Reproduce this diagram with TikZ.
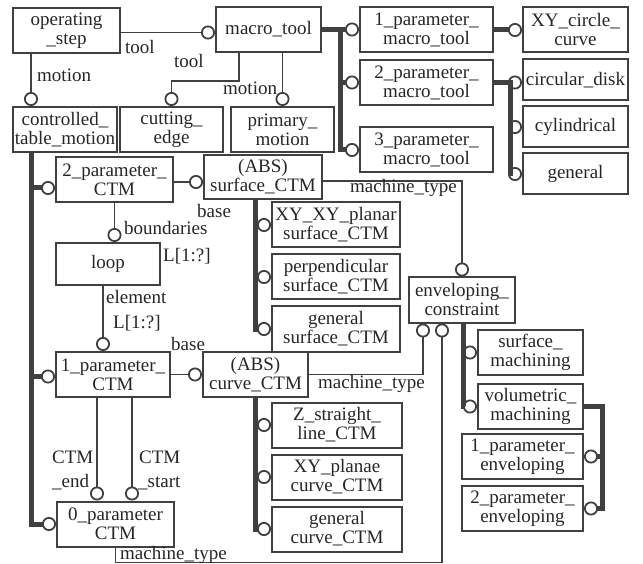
\documentclass[tikz,border=0pt]{standalone}
\usepackage{fontspec}
\setmainfont{Liberation Serif}
\usepackage{tikz}
\usetikzlibrary{positioning,arrows.meta}
\definecolor{ink}{gray}{0.25}
\newcommand{\dfont}{\fontsize{19}{19}\selectfont}

\begin{document}
\begin{tikzpicture}[
    x=1pt, y=-1pt,
    box/.style={draw=ink, line width=2pt, minimum height=45pt, inner sep=0pt,
                align=center, font=\dfont, text=black!85},
    rel/.style={draw=ink, line width=1.8pt,
                -{Circle[open, length=14pt, width=14pt, line width=1.8pt]}},
    sub/.style={draw=ink, line width=5pt,
                -{Circle[open, length=14pt, width=14pt, line width=1.8pt]}},
    lbl/.style={anchor=base west, inner sep=0pt, font=\dfont, text=black!85}
]
    \useasboundingbox (0,0) rectangle (643,564);

    \node[box, minimum width=107pt] (op) at (66.5,30.5) {operating\\\_step};
    \node[box, minimum width=105pt] (macro) at (268.5,29.5) {macro\_tool};
    \node[box, minimum width=104pt] (ctm) at (65,129.5) {controlled\_\\table\_motion};
    \node[box, minimum width=103pt] (edge) at (171.5,129.5) {cutting\_\\edge};
    \node[box, minimum width=103pt] (prim) at (282.5,129.5) {primary\_\\motion};

    \node[box, minimum width=133pt] (pm1) at (426.5,30) {1\_parameter\_\\macro\_tool};
    \node[box, minimum width=133pt] (pm2) at (426.5,82.5) {2\_parameter\_\\macro\_tool};
    \node[box, minimum width=133pt] (pm3) at (426.5,150) {3\_parameter\_\\macro\_tool};
    \node[box, minimum width=105pt] (xycc) at (575.5,30) {XY\_circle\_\\curve};
    \node[box, minimum width=105pt, minimum height=41pt] (disk) at (575.5,80) {circular\_disk};
    \node[box, minimum width=105pt, minimum height=41pt, below=4pt of disk] (cyl) {cylindrical};
    \node[box, minimum width=105pt, minimum height=41pt, below=4pt of cyl] (gen) {general};

    \node[box, minimum width=117pt] (p2ctm) at (114.5,180) {2\_parameter\_\\CTM};
    \node[box, minimum width=118pt, minimum height=44pt] (surf) at (263,177) {(ABS)\\surface\_CTM};
    \node[box, minimum width=128pt] (xyxy) at (336,225) {XY\_XY\_planar\\surface\_CTM};
    \node[box, minimum width=128pt, below=5pt of xyxy] (perp) {perpendicular\\surface\_CTM};
    \node[box, minimum width=128pt, below=5pt of perp] (gsurf) {general\\surface\_CTM};

    \node[box, minimum width=104pt, minimum height=42pt] (loop) at (108,264) {loop};
    \node[box, minimum width=114pt] (p1ctm) at (113,374.5) {1\_parameter\_\\CTM};
    \node[box, minimum width=105pt] (curve) at (255.5,374.5) {(ABS)\\curve\_CTM};
    \node[box, minimum width=130pt] (zline) at (337,425) {Z\_straight\_\\line\_CTM};
    \node[box, minimum width=130pt, below=5pt of zline] (xyplan) {XY\_planae\\curve\_CTM};
    \node[box, minimum width=130pt, below=5pt of xyplan] (gcurve) {general\\curve\_CTM};
    \node[box, minimum width=117pt] (p0ctm) at (115.5,524) {0\_parameter\\CTM};

    \node[box, minimum width=106pt] (env) at (462,300) {enveloping\_\\constraint};
    \node[box, minimum width=105pt] (smach) at (530.5,352.5) {surface\_\\machining};
    \node[box, minimum width=105pt, below=7pt of smach] (vmach) {volumetric\_\\machining};
    \node[box, minimum width=121pt] (pe1) at (522.5,456.5) {1\_parameter\_\\enveloping};
    \node[box, minimum width=121pt, below=5pt of pe1] (pe2) {2\_parameter\_\\enveloping};

    \coordinate (mt) at (340,0);
    \coordinate (dt) at (510,0);
    \coordinate (ct) at (32,0);
    \coordinate (st) at (255,0);
    \coordinate (et) at (463,0);
    \coordinate (vt) at (602,0);

    \draw[rel] ([yshift=-2pt]op.east) -- ([yshift=-2pt]op.east -| macro.west);
    \draw[rel] ([xshift=19pt]op.south west) -- ([xshift=19pt]ctm.north west);
    \draw[rel] ([xshift=24pt]macro.south west) -- ++(0,28) -| (edge.north);
    \draw[rel] (prim.north |- macro.south) -- (prim.north);

    \draw[sub] (macro.east) -- (macro.east -| mt) |- (pm3.west);
    \draw[sub] (macro.east) -- (macro.east -| pm1.west);
    \draw[sub] (pm2.west -| mt) -- (pm2.west);
    \draw[sub] (pm1.east) -- (pm1.east -| xycc.west);
    \draw[sub] (pm2.east) -- (pm2.east -| dt) |- (gen.west);
    \draw[sub] (pm2.east) -- (pm2.east -| disk.west);
    \draw[sub] (cyl.west -| dt) -- (cyl.west);

    \draw[sub] ([xshift=19pt]ctm.south west) |- (p0ctm.west);
    \draw[sub] ([yshift=-8pt]p2ctm.west -| ct) -- ([yshift=-8pt]p2ctm.west);
    \draw[sub] ([yshift=-2pt]p1ctm.west -| ct) -- ([yshift=-2pt]p1ctm.west);

    \draw[rel] ([yshift=-2pt]p2ctm.east) -- ([yshift=-2pt]p2ctm.east -| surf.west);
    \draw[sub] (surf.south -| st) |- (gsurf.west);
    \draw[sub] (xyxy.west -| st) -- (xyxy.west);
    \draw[sub] (perp.west -| st) -- (perp.west);
    \draw[rel] ([yshift=-4pt]surf.east) -| (env.north);

    \draw[rel] (p2ctm.south) -- (p2ctm.south |- loop.north);
    \draw[rel] ([xshift=-5pt]loop.south) -- ([xshift=-5pt]loop.south |- p1ctm.north);
    \draw[rel] (p1ctm.east) -- (p1ctm.east -| curve.west);
    \draw[sub] (curve.south -| st) |- (gcurve.west);
    \draw[sub] (zline.west -| st) -- (zline.west);
    \draw[sub] (xyplan.west -| st) -- (xyplan.west);
    \draw[rel] (curve.east) -| ([xshift=-39pt]env.south);

    \draw[rel] ([xshift=-16pt]p1ctm.south) -- ([xshift=-16pt]p1ctm.south |- p0ctm.north);
    \draw[rel] ([xshift=19pt]p1ctm.south) -- ([xshift=19pt]p1ctm.south |- p0ctm.north);
    \draw[rel] (p0ctm.south) -- ++(0,15) -| ([xshift=-20pt]env.south);

    \draw[sub] (env.south -| et) |- (vmach.west);
    \draw[sub] (smach.west -| et) -- (smach.west);
    \draw[sub] (vmach.east) -- (vmach.east -| vt) |- (pe2.east);
    \draw[sub] (pe1.east -| vt) -- (pe1.east);

    \node[lbl] (ltoola) at (125,54) {tool};
    \node[lbl] (lmota) at (37,82) {motion};
    \node[lbl] (ltoolb) at (174,68) {tool};
    \node[lbl] (lmotb) at (223,95) {motion};
    \node[lbl] (lbasea) at (197,218) {base};
    \node[lbl] (lmta) at (350,193) {machine\_type};
    \node[lbl] (lbound) at (124,235) {boundaries};
    \node[lbl] (lla) at (163,262) {L[1:?]};
    \node[lbl] (lelem) at (106,304) {element};
    \node[lbl] (llb) at (113,328) {L[1:?]};
    \node[lbl] (lbaseb) at (171,350) {base};
    \node[lbl] (lmtb) at (318,388) {machine\_type};
    \node[lbl] (lctma) at (52,463) {CTM};
    \node[lbl] (lend) at (52,487) {\_end};
    \node[lbl] (lctmb) at (139,463) {CTM};
    \node[lbl] (lstart) at (138,487) {\_start};
    \node[lbl] (lmtc) at (120,559) {machine\_type};
\end{tikzpicture}
\end{document}
